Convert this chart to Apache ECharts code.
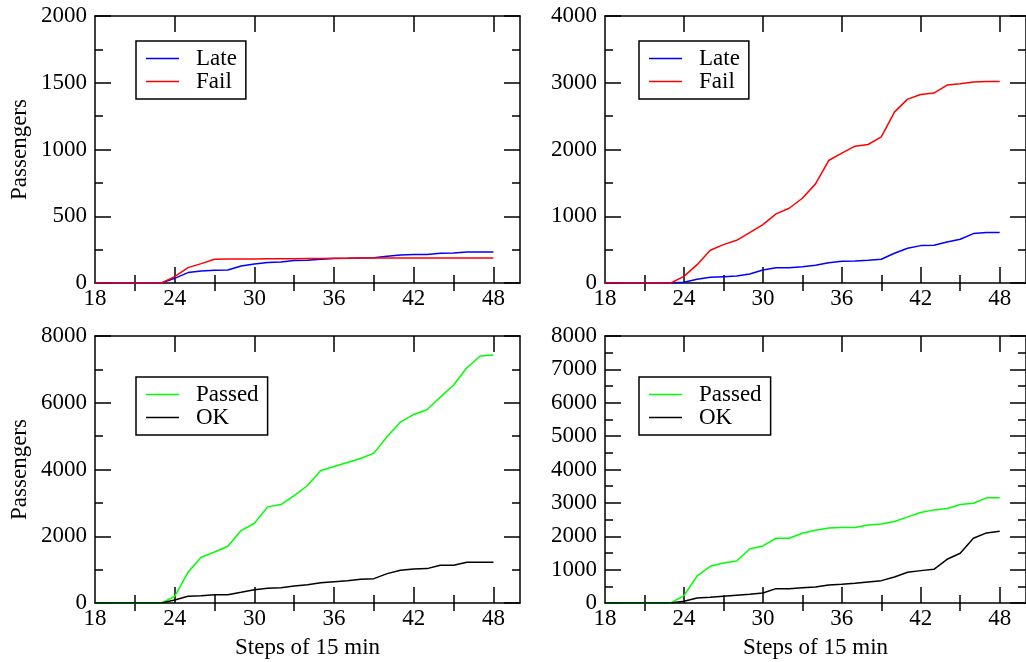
<!DOCTYPE html>
<html>
<head>
<meta charset="utf-8">
<style>
  html, body { margin: 0; padding: 0; background: #fff; }
  #chart { width: 1026px; height: 662px; }
</style>
<script src="https://cdn.jsdelivr.net/npm/echarts@6/dist/echarts.min.js"></script>
</head>
<body>
<div id="chart"></div>
<script>
// steps of 15 min (x values)
const steps = [18,19,20,21,22,23,24,25,26,27,28,29,30,31,32,33,34,35,36,37,38,39,40,41,42,43,44,45,46,47,48];
const xLabelTicks = [18,24,30,36,42,48];
const xMajorTicks = [24,30,36,42,48];
const xMinorTicks = [21,27,33,39,45];

// top left
const lateA = [0,0,0,0,0,0,35,78,90,95,98,128,143,153,158,168,170,178,183,185,188,190,200,210,213,213,223,225,233,233,233];
const failA = [0,0,0,0,0,0,48,115,145,178,179,180,180,181,181,182,183,184,185,186,187,188,188,188,188,188,188,188,188,188,188];
// top right
const lateB = [0,0,0,0,0,0,10,55,85,95,105,135,195,230,230,245,265,305,325,330,340,355,445,520,560,565,615,655,740,755,755];
const failB = [0,0,0,0,0,0,100,275,490,575,640,755,875,1035,1120,1270,1485,1835,1945,2050,2075,2190,2560,2755,2825,2845,2965,2985,3010,3020,3020];
// bottom left
const passedC = [0,0,0,0,0,0,200,920,1370,1530,1700,2170,2390,2880,2950,3220,3520,3970,4090,4210,4330,4490,4990,5420,5650,5790,6170,6530,7050,7400,7430];
const okC = [0,0,0,0,0,0,90,200,220,250,250,320,400,440,460,510,550,610,640,670,710,730,880,980,1020,1030,1130,1130,1220,1220,1220];
// bottom right
const passedD = [0,0,0,0,0,0,220,810,1100,1200,1260,1620,1710,1940,1940,2090,2180,2250,2260,2260,2340,2370,2440,2580,2710,2790,2830,2950,2990,3150,3150];
const okD = [0,0,0,0,0,0,50,150,170,200,230,260,300,430,430,460,480,540,560,590,630,670,780,920,970,1010,1310,1490,1940,2100,2150];

const FONT = 'Liberation Serif';
const txt = { fontFamily: FONT, fontSize: 23, color: '#000' };

const panels = [
  { left: 95,  top: 16,  yMax: 2000, yStep: 500,  yName: 'Passengers', xName: '',
    lines: [['Late', lateA, '#0000ff'], ['Fail', failA, '#ff0000']], legend: [136, 41] },
  { left: 605, top: 16,  yMax: 4000, yStep: 1000, yName: '', xName: '',
    lines: [['Late', lateB, '#0000ff'], ['Fail', failB, '#ff0000']], legend: [639, 41] },
  { left: 95,  top: 336, yMax: 8000, yStep: 2000, yName: 'Passengers', xName: 'Steps of 15 min',
    lines: [['Passed', passedC, '#00ff00'], ['OK', okC, '#000000']], legend: [136, 377] },
  { left: 605, top: 336, yMax: 8000, yStep: 1000, yName: '', xName: 'Steps of 15 min',
    lines: [['Passed', passedD, '#00ff00'], ['OK', okD, '#000000']], legend: [639, 377] }
];

const grid = [], xAxis = [], yAxis = [], series = [], legend = [];
const axisLine = { show: true, onZero: false, lineStyle: { color: '#000', width: 1.5 } };
const plain = v => String(v);

panels.forEach((p, i) => {
  grid.push({ left: p.left, top: p.top, width: 425, height: 267 });
  const base = { type: 'value', gridIndex: i, min: 18, max: 50, interval: 6,
    splitLine: { show: false }, axisLine: axisLine };
  // bottom axis with labels and major ticks
  xAxis.push(Object.assign({}, base, {
    position: 'bottom',
    name: p.xName, nameLocation: 'middle', nameGap: 33, nameTextStyle: txt,
    axisLabel: Object.assign({ customValues: xLabelTicks, margin: 4, formatter: plain }, txt),
    axisTick: { inside: true, length: 16, customValues: xMajorTicks, lineStyle: { color: '#000', width: 1.5 } }
  }));
  // bottom minor ticks
  xAxis.push(Object.assign({}, base, {
    position: 'bottom', axisLine: { show: false },
    axisLabel: { show: false },
    axisTick: { inside: true, length: 8, customValues: xMinorTicks, lineStyle: { color: '#000', width: 1.5 } }
  }));
  // top mirror
  xAxis.push(Object.assign({}, base, {
    position: 'top', axisLabel: { show: false },
    axisTick: { inside: true, length: 16, customValues: xMajorTicks, lineStyle: { color: '#000', width: 1.5 } }
  }));
  xAxis.push(Object.assign({}, base, {
    position: 'top', axisLine: { show: false }, axisLabel: { show: false },
    axisTick: { inside: true, length: 8, customValues: xMinorTicks, lineStyle: { color: '#000', width: 1.5 } }
  }));

  const ybase = { type: 'value', gridIndex: i, min: 0, max: p.yMax, interval: p.yStep,
    splitLine: { show: false }, axisLine: axisLine,
    axisTick: { inside: true, length: 16, lineStyle: { color: '#000', width: 1.5 } },
    minorTick: { show: true, splitNumber: 2, length: 8, lineStyle: { color: '#000', width: 1.5 } },
    minorSplitLine: { show: false } };
  yAxis.push(Object.assign({}, ybase, {
    position: 'left',
    name: p.yName, nameLocation: 'middle', nameGap: 64, nameRotate: 90, nameTextStyle: txt,
    axisLabel: Object.assign({ margin: 8, formatter: plain }, txt)
  }));
  yAxis.push(Object.assign({}, ybase, { position: 'right', axisLabel: { show: false } }));

  p.lines.forEach(l => {
    series.push({
      name: l[0], type: 'line', xAxisIndex: i * 4, yAxisIndex: i * 2,
      data: steps.map((s, k) => [s, l[1][k]]),
      showSymbol: false, symbol: 'none', animation: false,
      itemStyle: { color: l[2] }, lineStyle: { color: l[2], width: 1.5 }
    });
  });

  legend.push({
    orient: 'vertical', left: p.legend[0], top: p.legend[1],
    data: p.lines.map(l => l[0]),
    icon: 'rect', itemWidth: 33, itemHeight: 1.5, itemGap: 0,
    padding: [6, 9, 6, 10],
    borderColor: '#000', borderWidth: 1.5, borderRadius: 0,
    selectedMode: false,
    textStyle: Object.assign({ lineHeight: 23, padding: [0, 0, 0, 12] }, txt)
  });
});

const chart = echarts.init(document.getElementById('chart'), null, { renderer: 'canvas' });
chart.setOption({
  backgroundColor: '#fff',
  animation: false,
  grid: grid, xAxis: xAxis, yAxis: yAxis, series: series, legend: legend
});
</script>
</body>
</html>
